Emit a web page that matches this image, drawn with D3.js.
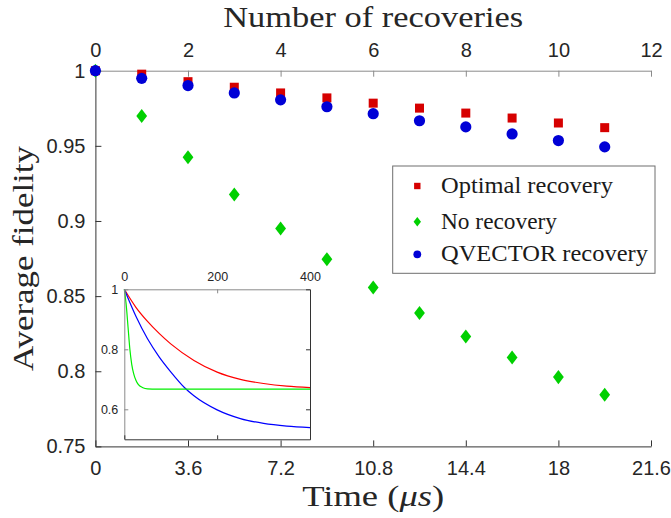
<!DOCTYPE html>
<html><head><meta charset="utf-8">
<script src="https://cdn.jsdelivr.net/npm/d3@7"></script>
<style>body{margin:0;background:#fff}svg{display:block}</style>
</head><body><svg id="c" width="671" height="518"></svg>
<script>
// ---- data ----
const recoveries = [0,1,2,3,4,5,6,7,8,9,10,11];
const optimal    = [1, 0.9977, 0.9927, 0.9890, 0.9852, 0.9819, 0.9784, 0.9751, 0.9718, 0.9685, 0.9652, 0.9621];
const noRecovery = [1, 0.9699, 0.9424, 0.9176, 0.8950, 0.8746, 0.8557, 0.8387, 0.8231, 0.8092, 0.7961, 0.7844];
const qvector    = [1, 0.9949, 0.9901, 0.9852, 0.9806, 0.9760, 0.9714, 0.9667, 0.9626, 0.9579, 0.9535, 0.9493];
const recTicks   = [0,2,4,6,8,10,12];
const timeTicks  = [0,3.6,7.2,10.8,14.4,18,21.6];
const timeLabels = ["0","3.6","7.2","10.8","14.4","18","21.6"];
const yTicks     = [0.75,0.8,0.85,0.9,0.95,1];
const yLabels    = ["0.75","0.8","0.85","0.9","0.95","1"];
const seriesNames = ["Optimal recovery","No recovery","QVECTOR recovery"];
// inset curves
const insetT      = [0,25,50,75,100,150,200,250,300,350,400];
const insetRed    = [1,0.940,0.893,0.853,0.818,0.763,0.724,0.700,0.686,0.677,0.672];
const insetBlueT  = [0,25,50,75,100,130,150,200,250,300,350,400];
const insetBlue   = [1,0.910,0.835,0.775,0.725,0.672,0.645,0.598,0.569,0.553,0.544,0.539];
const insetGreenT = [0,4,8,12,16,20,25,30,40,50,70,400];
const insetGreen  = [1,0.95,0.875,0.80,0.75,0.72,0.697,0.683,0.672,0.668,0.667,0.667];
const insetXTicks = [0,200,400];
const insetYTicks = [0.6,0.8,1];
const insetYLabels= ["0.6","0.8","1"];

const svg = d3.select("#c");
const L=95.4, R=651, T=70.7, B=446.4;
const xR = d3.scaleLinear([0,12],[L,R]);
const xT = d3.scaleLinear([0,21.6],[L,R]);
const y  = d3.scaleLinear([0.75,1],[B,T]);
const sans = "'Liberation Sans', Arial, sans-serif";
const serif = "'Liberation Serif', 'Times New Roman', serif";

function styleAxis(g, col, fs){
  g.selectAll("path,line").attr("stroke", col).attr("stroke-width",1);
  g.selectAll("text").attr("fill","#262626").style("font-family",sans).style("font-size",fs+"px");
}
// left axis
const gl = svg.append("g").attr("transform",`translate(${L},0)`)
  .call(d3.axisLeft(y).tickValues(yTicks).tickFormat((d,i)=>yLabels[i]).tickSize(-6).tickSizeOuter(0).tickPadding(10));
styleAxis(gl,"#333",20);
// bottom axis
const gb = svg.append("g").attr("transform",`translate(0,${B})`)
  .call(d3.axisBottom(xT).tickValues(timeTicks).tickFormat((d,i)=>timeLabels[i]).tickSize(-6).tickSizeOuter(0).tickPadding(14));
styleAxis(gb,"#333",20);
// top axis
const gt = svg.append("g").attr("transform",`translate(0,${T})`)
  .call(d3.axisTop(xR).tickValues(recTicks).tickSize(-6).tickSizeOuter(0).tickPadding(14));
styleAxis(gt,"#8a8a8a",20);

// titles
svg.append("text").attr("x",(L+R)/2).attr("y",27).attr("text-anchor","middle")
  .attr("textLength",300).attr("lengthAdjust","spacingAndGlyphs")
  .style("font-family",serif).style("font-size","29px").attr("fill","#262626").text("Number of recoveries");
svg.append("text").attr("transform",`translate(33,${(T+B)/2}) rotate(-90)`).attr("text-anchor","middle")
  .attr("textLength",225).attr("lengthAdjust","spacingAndGlyphs")
  .style("font-family",serif).style("font-size","30px").attr("fill","#262626").text("Average fidelity");
const tt = svg.append("text").attr("x",(L+R)/2).attr("y",506).attr("text-anchor","middle")
  .attr("textLength",142).attr("lengthAdjust","spacingAndGlyphs")
  .style("font-family",serif).style("font-size","30px").attr("fill","#262626");
tt.append("tspan").text("Time (");
tt.append("tspan").style("font-style","italic").text("μs");
tt.append("tspan").text(")");

// markers
const cRed="#d60000", cGreen="#00d000", cBlue="#0000d6";
const diamond = (s)=>`M0,${-s*1.3}L${s},0L0,${s*1.3}L${-s},0Z`;
svg.append("g").selectAll("rect").data(recoveries).join("rect")
  .attr("x",(d)=>xR(d)-4.5).attr("y",(d,i)=>y(optimal[i])-4.5).attr("width",9).attr("height",9).attr("fill",cRed);
svg.append("g").selectAll("path").data(recoveries).join("path")
  .attr("transform",(d,i)=>`translate(${xR(d)},${y(noRecovery[i])})`).attr("d",diamond(5.4)).attr("fill",cGreen);
svg.append("g").selectAll("circle").data(recoveries).join("circle")
  .attr("cx",(d)=>xR(d)).attr("cy",(d,i)=>y(qvector[i])).attr("r",5.6).attr("fill",cBlue);

// legend
const lg = svg.append("g");
lg.append("rect").attr("x",392.7).attr("y",166).attr("width",262.3).attr("height",107.3)
  .attr("fill","#fff").attr("stroke","#6e6e6e").attr("stroke-width",1);
const rowsY=[186,221.7,254.3], widths=[172,116,207];
lg.append("rect").attr("x",417.3-3.2).attr("y",rowsY[0]-3.2).attr("width",6.4).attr("height",6.4).attr("fill",cRed);
lg.append("path").attr("transform",`translate(417.3,${rowsY[1]})`).attr("d",diamond(3.7)).attr("fill",cGreen);
lg.append("circle").attr("cx",417.3).attr("cy",rowsY[2]).attr("r",3.9).attr("fill",cBlue);
seriesNames.forEach((n,i)=>{
  lg.append("text").attr("x",441).attr("y",rowsY[i]+7).attr("textLength",widths[i]).attr("lengthAdjust","spacingAndGlyphs")
    .style("font-family",serif).style("font-size","23px").attr("fill","#1a1a1a").text(n);
});

// inset
const iL=124.3, iR=310, iT=289.3, iB=439.3;
const xi = d3.scaleLinear([0,400],[iL,iR]);
const yi = d3.scaleLinear([0.5,1],[iB,iT]);
const ig = svg.append("g");
ig.append("rect").attr("x",iL).attr("y",iT).attr("width",iR-iL).attr("height",iB-iT).attr("fill","#fff");
const line = d3.line().curve(d3.curveMonotoneX);
ig.append("path").attr("d",line(insetT.map((t,i)=>[xi(t),yi(insetRed[i])]))).attr("fill","none").attr("stroke","#ff0000").attr("stroke-width",1.2);
ig.append("path").attr("d",line(insetBlueT.map((t,i)=>[xi(t),yi(insetBlue[i])]))).attr("fill","none").attr("stroke","#0000ff").attr("stroke-width",1.2);
ig.append("path").attr("d",line(insetGreenT.map((t,i)=>[xi(t),yi(insetGreen[i])]))).attr("fill","none").attr("stroke","#00ee00").attr("stroke-width",1.2);
const ia1 = ig.append("g").attr("transform",`translate(0,${iT})`)
  .call(d3.axisTop(xi).tickValues(insetXTicks).tickSize(-4).tickSizeOuter(0).tickPadding(8));
styleAxis(ia1,"#8a8a8a",12.5);
const ia2 = ig.append("g").attr("transform",`translate(${iL},0)`)
  .call(d3.axisLeft(yi).tickValues(insetYTicks).tickFormat((d,i)=>insetYLabels[i]).tickSize(-4).tickSizeOuter(0).tickPadding(6));
styleAxis(ia2,"#8a8a8a",12.5);
const ia3 = ig.append("g").attr("transform",`translate(0,${iB})`)
  .call(d3.axisBottom(xi).tickValues(insetXTicks).tickFormat("").tickSize(-4).tickSizeOuter(0));
styleAxis(ia3,"#333",12);
const ia4 = ig.append("g").attr("transform",`translate(${iR},0)`)
  .call(d3.axisRight(yi).tickValues(insetYTicks).tickFormat("").tickSize(-4).tickSizeOuter(0));
styleAxis(ia4,"#333",12);
</script></body></html>
